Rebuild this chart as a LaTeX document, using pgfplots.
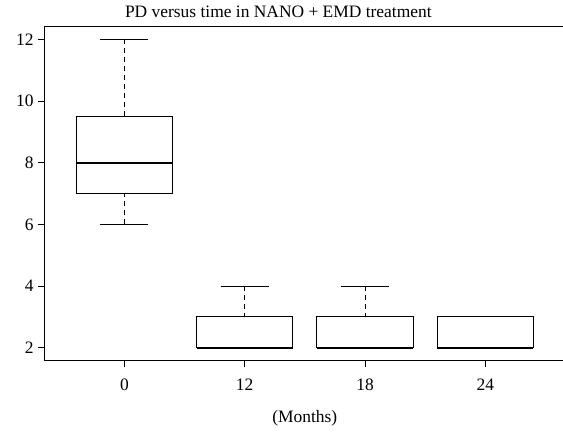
\documentclass[border=0pt]{standalone}
\usepackage{pgfplots}
\pgfplotsset{compat=1.18}
\usepgfplotslibrary{statistics}
\usepackage{fontspec}
\setmainfont{Liberation Serif}
\begin{document}
\begin{tikzpicture}
\begin{axis}[
  at={(0,0)}, anchor=south west,
  scale only axis, width=519.7bp, height=333bp,
  xmin=0.34, xmax=4.66, ymin=1.6, ymax=12.4,
  axis line style={draw=none},
  xtick={1,2,3,4}, xticklabels={0,12,18,24},
  ytick={2,4,6,8,10,12},
  xtick pos=bottom, ytick pos=left,
  tick align=outside, major tick length=7bp,
  every tick/.style={black, line width=0.8bp},
  /pgf/number format/assume math mode=true,
  tick label style={font=\fontsize{17.5}{20}\selectfont},
  xticklabel style={yshift=-8bp},
  yticklabel style={xshift=-1bp},
  xlabel={(Months)},
  xlabel style={font=\fontsize{17.5}{20}\selectfont, yshift=-13bp},
  clip=false,
  boxplot/draw direction=y,
  boxplot/box extend=0.8,
  boxplot/whisker extend=0.4,
  boxplot/every box/.style={line width=1.2bp},
  boxplot/every median/.style={line width=2.2bp},
  boxplot/draw/lower whisker/.code={%
    \draw[dash pattern=on 5bp off 4bp, line width=0.8bp]
      (boxplot box cs:\pgfplotsboxplotvalue{lower whisker},0.5) --
      (boxplot box cs:\pgfplotsboxplotvalue{lower quartile},0.5);
    \draw[line width=1bp]
      (boxplot whisker cs:\pgfplotsboxplotvalue{lower whisker},0) --
      (boxplot whisker cs:\pgfplotsboxplotvalue{lower whisker},1);
  },
  boxplot/draw/upper whisker/.code={%
    \draw[dash pattern=on 5bp off 4bp, line width=0.8bp]
      (boxplot box cs:\pgfplotsboxplotvalue{upper whisker},0.5) --
      (boxplot box cs:\pgfplotsboxplotvalue{upper quartile},0.5);
    \draw[line width=1bp]
      (boxplot whisker cs:\pgfplotsboxplotvalue{upper whisker},0) --
      (boxplot whisker cs:\pgfplotsboxplotvalue{upper whisker},1);
  },
]
\draw[black, line width=1bp] (rel axis cs:1,1) -- (rel axis cs:0,1) -- (rel axis cs:0,0) -- (rel axis cs:1,0);
\addplot[black, solid, boxplot prepared={draw position=1, lower whisker=6, lower quartile=7, median=8, upper quartile=9.5, upper whisker=12}] coordinates {};
\addplot[black, solid, boxplot prepared={draw position=2, lower whisker=2, lower quartile=2, median=2, upper quartile=3, upper whisker=4}] coordinates {};
\addplot[black, solid, boxplot prepared={draw position=3, lower whisker=2, lower quartile=2, median=2, upper quartile=3, upper whisker=4}] coordinates {};
\addplot[black, solid, boxplot prepared={draw position=4, lower whisker=2, lower quartile=2, median=2, upper quartile=3, upper whisker=3}] coordinates {};
\node[anchor=base, font=\fontsize{17.5}{20}\selectfont] at (rel axis cs:0.449,1) [yshift=9bp] {PD versus time in NANO + EMD treatment};
\end{axis}
\pgfresetboundingbox
\path (-45bp,-73bp) rectangle (518bp,360bp);
\end{tikzpicture}
\end{document}
